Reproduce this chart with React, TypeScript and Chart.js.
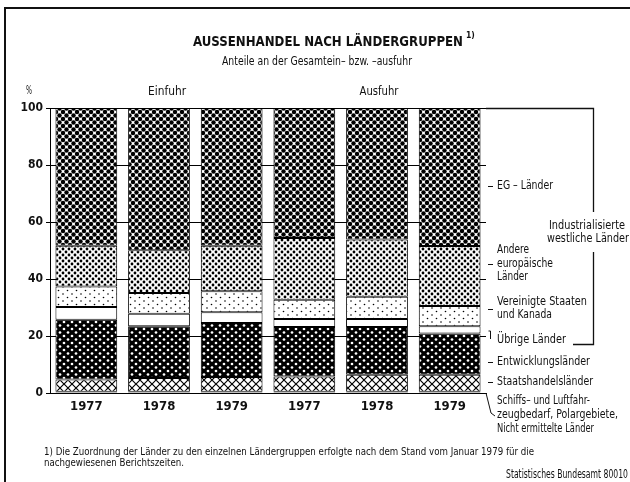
import { useEffect, useRef } from "react";
import { Chart, registerables } from "chart.js";

Chart.register(...registerables);

// ---- data ----
const years = ["1977", "1978", "1979", "1977", "1978", "1979"];
const groupLabels = ["Einfuhr", "Ausfuhr"];
const yTicks = [0, 20, 40, 60, 80, 100];

// stacked from bottom to top (percent)
const schiffs = [0.4, 0.4, 0.4, 0.4, 0.4, 0.4];
const staatshandel = [4.3, 4.9, 5.2, 5.4, 6.0, 6.0];
const entwicklung = [21.0, 18.1, 19.0, 17.4, 16.8, 14.5];
const uebrige = [4.5, 4.4, 3.7, 2.8, 2.8, 2.5];
const usaKanada = [7.2, 7.3, 7.4, 6.7, 7.8, 7.1];
const andereEuropa = [14.3, 15.0, 16.0, 21.7, 20.1, 21.1];
const egLaender = [48.3, 49.9, 48.3, 45.6, 46.1, 48.4];

const seriesNames = [
  "Schiffs– und Luftfahrzeugbedarf, Polargebiete, Nicht ermittelte Länder",
  "Staatshandelsländer",
  "Entwicklungsländer",
  "Übrige Länder",
  "Vereinigte Staaten und Kanada",
  "Andere europäische Länder",
  "EG – Länder",
];

const titleText = "AUSSENHANDEL NACH LÄNDERGRUPPEN";
const titleNote = "1)";
const subtitleText = "Anteile an der Gesamtein– bzw. –ausfuhr";
const unitText = "%";
const bracketText = ["Industrialisierte", "westliche Länder"];
const footnoteLines = [
  "1) Die Zuordnung der Länder zu den einzelnen Ländergruppen erfolgte nach dem Stand vom Januar 1979 für die",
  "nachgewiesenen Berichtszeiten.",
];
const sourceText = "Statistisches Bundesamt 80010";

const NARROW =
  '"Liberation Sans Narrow", "DejaVu Sans Condensed", "Arial Narrow", "Liberation Sans", sans-serif';
const INK = "#111";

function makePattern(
  w: number,
  h: number,
  bg: string,
  draw: (g: CanvasRenderingContext2D) => void
) {
  const c = document.createElement("canvas");
  c.width = w;
  c.height = h;
  const g = c.getContext("2d")!;
  g.fillStyle = bg;
  g.fillRect(0, 0, w, h);
  draw(g);
  return g.createPattern(c, "repeat")!;
}

function dotLattice(g: CanvasRenderingContext2D, w: number, h: number, r: number, color: string) {
  g.fillStyle = color;
  const pts = [
    [0, 0],
    [w, 0],
    [0, h],
    [w, h],
    [w / 2, h / 2],
  ];
  for (const [x, y] of pts) {
    g.beginPath();
    g.arc(x, y, r, 0, Math.PI * 2);
    g.fill();
  }
}

function txt(
  ctx: CanvasRenderingContext2D,
  s: string,
  x: number,
  y: number,
  size: number,
  opts: { bold?: boolean; align?: CanvasTextAlign; width?: number } = {}
) {
  ctx.save();
  ctx.font = `${opts.bold ? "bold " : ""}${size}px ${NARROW}`;
  ctx.fillStyle = INK;
  ctx.textBaseline = "middle";
  ctx.textAlign = opts.align || "left";
  const m = ctx.measureText(s).width;
  const sx = opts.width ? opts.width / m : 1;
  ctx.translate(x, y);
  ctx.scale(sx, 1);
  ctx.fillText(s, 0, 0);
  ctx.restore();
}

function line(ctx: CanvasRenderingContext2D, pts: number[][], w = 1) {
  ctx.save();
  ctx.strokeStyle = INK;
  ctx.lineWidth = w;
  ctx.beginPath();
  pts.forEach(([x, y], i) => (i === 0 ? ctx.moveTo(x, y) : ctx.lineTo(x, y)));
  ctx.stroke();
  ctx.restore();
}

const decorPlugin = {
  id: "decor",
  afterDraw(chart: any) {
    const ctx: CanvasRenderingContext2D = chart.ctx;
    const xs = chart.scales.x;
    const area = chart.chartArea;

    // frame
    line(ctx, [[5, 482], [5, 8], [630, 8]], 2);

    // titles
    txt(ctx, titleText, 193, 42, 14, { bold: true, width: 270 });
    txt(ctx, titleNote, 466, 36, 8.5, { bold: true });
    txt(ctx, subtitleText, 317, 62, 13, { align: "center", width: 190 });

    // unit and group labels
    txt(ctx, unitText, 29, 91, 12, { align: "center", width: 6 });
    const c0 = (xs.getPixelForValue(0) + xs.getPixelForValue(2)) / 2;
    const c1 = (xs.getPixelForValue(3) + xs.getPixelForValue(5)) / 2;
    txt(ctx, groupLabels[0], c0 + 8, 92, 13, { align: "center", width: 38 });
    txt(ctx, groupLabels[1], c1 + 2, 92, 13, { align: "center", width: 39 });

    // right-hand annotations
    const lx = 497;
    const fs = 13;
    const dash = (y: number) => line(ctx, [[488, y + 0.5], [493, y + 0.5]], 1);
    txt(ctx, seriesNames[6], lx, 186, fs, { width: 56 });
    dash(186);
    txt(ctx, "Andere", lx, 250, fs, { width: 32 });
    txt(ctx, "europäische", lx, 264, fs, { width: 56 });
    txt(ctx, "Länder", lx, 277, fs, { width: 31 });
    dash(264);
    txt(ctx, "Vereinigte Staaten", lx, 302, fs, { width: 90 });
    txt(ctx, "und Kanada", lx, 315, fs, { width: 55 });
    dash(309);
    txt(ctx, seriesNames[3], lx, 340, fs, { width: 69 });
    line(ctx, [[488.5, 331], [490.5, 331], [490.5, 339]], 1);
    txt(ctx, seriesNames[2], lx, 362, fs, { width: 93 });
    dash(362);
    txt(ctx, seriesNames[1], lx, 382, fs, { width: 96 });
    dash(382);
    txt(ctx, "Schiffs– und Luftfahr-", lx, 401, fs, { width: 93 });
    txt(ctx, "zeugbedarf, Polargebiete,", lx, 415, fs, { width: 121 });
    txt(ctx, "Nicht ermittelte Länder", lx, 429, fs, { width: 97 });
    line(ctx, [[area.right, area.bottom], [491, 413], [495, 416]], 1);

    // bracket for industrialised western countries
    line(ctx, [[area.right, 108.5], [593.5, 108.5], [593.5, 212]], 1.3);
    line(ctx, [[593.5, 252], [593.5, 344.5], [573, 344.5]], 1.3);
    txt(ctx, bracketText[0], 587, 226, fs, { align: "center", width: 76 });
    txt(ctx, bracketText[1], 588, 239, fs, { align: "center", width: 82 });

    // footnote and source
    txt(ctx, footnoteLines[0], 44, 452, 11, { width: 490 });
    txt(ctx, footnoteLines[1], 44, 463, 11, { width: 140 });
    txt(ctx, sourceText, 628, 475, 11.5, { align: "right", width: 122 });
  },
};

export default function App() {
  const ref = useRef<HTMLCanvasElement>(null);

  useEffect(() => {
    const canvas = ref.current!;
    const pEG = makePattern(7, 7, "#fff", (g) => dotLattice(g, 7, 7, 2.25, "#000"));
    const pAndere = makePattern(6, 6, "#fff", (g) => dotLattice(g, 6, 6, 1.4, "#000"));
    const pUSA = makePattern(9, 7, "#fff", (g) => dotLattice(g, 9, 7, 0.8, "#000"));
    const pUeb = "#fff";
    const pEntw = makePattern(8, 7, "#000", (g) => dotLattice(g, 8, 7, 1.35, "#fff"));
    const pStaat = makePattern(8, 8, "#fff", (g) => {
      g.strokeStyle = "#000";
      g.lineWidth = 1.2;
      g.beginPath();
      g.moveTo(0, 0);
      g.lineTo(8, 8);
      g.moveTo(8, 0);
      g.lineTo(0, 8);
      g.stroke();
    });
    const pSchiffs = "#000";

    const series = [schiffs, staatshandel, entwicklung, uebrige, usaKanada, andereEuropa, egLaender];
    const fills = [pSchiffs, pStaat, pEntw, pUeb, pUSA, pAndere, pEG];

    const chart = new Chart(canvas, {
      type: "bar",
      data: {
        labels: years,
        datasets: series.map((d, i) => ({
          label: seriesNames[i],
          data: d,
          backgroundColor: fills[i] as any,
          borderColor: "#000",
          borderWidth: 1,
          borderSkipped: false,
          barPercentage: 0.85,
          categoryPercentage: 1,
        })),
      },
      options: {
        responsive: false,
        devicePixelRatio: 1,
        animation: false,
        layout: { padding: { left: 0, right: 144, top: 108, bottom: 0 } },
        plugins: { legend: { display: false }, tooltip: { enabled: false }, title: { display: false } },
        scales: {
          x: {
            type: "category",
            stacked: true,
            offset: true,
            grid: { display: false, drawTicks: false },
            border: { display: true, color: "#000", width: 1 },
            ticks: {
              color: INK,
              font: { family: NARROW, size: 13, weight: "bold" },
              padding: 6,
              maxRotation: 0,
              autoSkip: false,
            },
            afterFit: (s: any) => {
              s.height = 89;
            },
          },
          y: {
            stacked: true,
            min: 0,
            max: 100,
            afterBuildTicks: (s: any) => {
              s.ticks = yTicks.map((v) => ({ value: v }));
            },
            grid: { color: "#000", lineWidth: 1, drawTicks: true, tickLength: 4 },
            border: { display: true, color: "#000", width: 1 },
            ticks: {
              color: INK,
              font: { family: NARROW, size: 12, weight: "bold" },
              padding: 3,
            },
            afterFit: (s: any) => {
              s.width = 50;
            },
          },
        },
      } as any,
      plugins: [decorPlugin],
    });
    return () => chart.destroy();
  }, []);

  return (
    <div style={{ position: "absolute", left: 0, top: 0, width: 630, height: 482, background: "#fff" }}>
      <canvas ref={ref} width={630} height={482} style={{ display: "block", width: 630, height: 482 }} />
    </div>
  );
}
